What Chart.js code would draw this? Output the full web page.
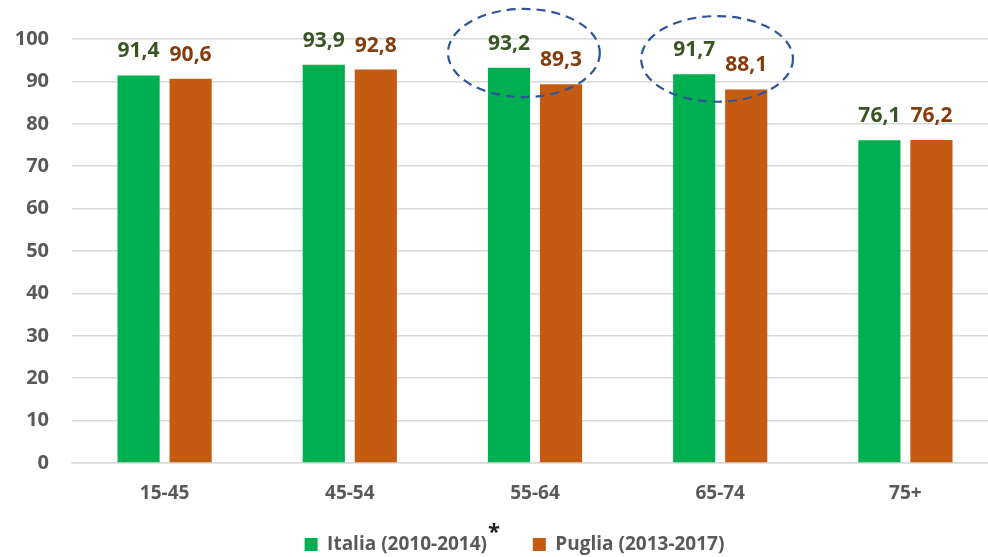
<!DOCTYPE html>
<html>
<head>
<meta charset="utf-8">
<script src="https://cdn.jsdelivr.net/npm/chart.js@4.4.1/dist/chart.umd.min.js"></script>
<style>
  html, body { margin: 0; padding: 0; background: #fff; overflow: hidden; width: 988px; height: 557px; }
  #wrap { position: absolute; left: 0; top: 0; width: 1028px; height: 557px; }
</style>
</head>
<body>
<div id="wrap"><canvas id="c" width="1028" height="557"></canvas></div>
<script>
const categories = ["15-45", "45-54", "55-64", "65-74", "75+"];
const italiaLabel = "Italia (2010-2014)";
const pugliaLabel = "Puglia (2013-2017)";
const italiaValues = [91.4, 93.9, 93.2, 91.7, 76.1];
const pugliaValues = [90.6, 92.8, 89.3, 88.1, 76.2];
const yTicks = [0, 10, 20, 30, 40, 50, 60, 70, 80, 90, 100];
// highlighted groups (category index, centre value, half-height in value units)
const highlightCats = [2, 3];
const highlightCentre = [96.7, 95.3];
const highlightHalfHeight = [10.4, 10.1];

const FONT = "'Open Sans', 'Noto Sans', sans-serif";
const GREEN = "#00B050", ORANGE = "#C55A11";
const GREEN_TXT = "#375623", ORANGE_TXT = "#843C0C";
const GRAY_TXT = "#595959";
const LEG_PAD = 31, LEG_FONT = 19, LEG_SHIFT = 31;

const fmt = v => v.toFixed(1).replace(".", ",");

const valueLabels = {
  id: "valueLabels",
  afterDatasetsDraw(chart) {
    const ctx = chart.ctx;
    ctx.save();
    ctx.font = "bold 21px " + FONT;
    ctx.textAlign = "center";
    ctx.textBaseline = "alphabetic";
    chart.data.datasets.forEach((ds, di) => {
      const meta = chart.getDatasetMeta(di);
      ctx.fillStyle = di === 0 ? GREEN_TXT : ORANGE_TXT;
      meta.data.forEach((bar, i) => {
        ctx.fillText(fmt(ds.data[i]), bar.x, bar.y - 18);
      });
    });
    ctx.restore();
  }
};

const ellipses = {
  id: "ellipses",
  afterDraw(chart) {
    const ctx = chart.ctx, xs = chart.scales.x, ys = chart.scales.y;
    const catW = xs.getPixelForValue(1) - xs.getPixelForValue(0);
    ctx.save();
    ctx.strokeStyle = "#2F5597";
    ctx.lineWidth = 2.2;
    ctx.setLineDash([9, 6]);
    highlightCats.forEach((c, k) => {
      const cx = xs.getPixelForValue(c) - (k === 0 ? 0.06 : 0.017) * catW;
      const cy = ys.getPixelForValue(highlightCentre[k]);
      const ry = ys.getPixelForValue(0) - ys.getPixelForValue(highlightHalfHeight[k]);
      const rx = 0.41 * catW;
      ctx.beginPath();
      ctx.ellipse(cx, cy, rx, ry, 0, 0, Math.PI * 2);
      ctx.stroke();
    });
    ctx.restore();
  }
};

// shift the legend so it is centred like the original figure
const legendShift = {
  id: "legendShift",
  afterLayout(chart) {
    const lg = chart.legend;
    if (lg) { lg.left += LEG_SHIFT; lg.width -= LEG_SHIFT; }
  }
};

const asterisk = {
  id: "asterisk",
  afterDraw(chart) {
    const lg = chart.legend;
    if (!lg || !lg.lineWidths) return;
    const ctx = chart.ctx;
    const start = (lg.left + LEG_PAD + lg.right - lg.lineWidths[0]) / 2;
    ctx.save();
    ctx.font = "bold " + LEG_FONT + "px " + FONT;
    const textX = start + 13 + LEG_FONT / 2;
    const w = ctx.measureText(italiaLabel).width;
    ctx.font = "bold 22px " + FONT;
    ctx.fillStyle = "#222";
    ctx.textAlign = "left";
    ctx.textBaseline = "alphabetic";
    ctx.fillText("*", textX + w + 1, lg.top + LEG_PAD + 4);
    ctx.restore();
  }
};

new Chart(document.getElementById("c"), {
  type: "bar",
  data: {
    labels: categories,
    datasets: [
      { label: italiaLabel, data: italiaValues, backgroundColor: GREEN, categoryPercentage: 0.562, barPercentage: 0.81 },
      { label: pugliaLabel, data: pugliaValues, backgroundColor: ORANGE, categoryPercentage: 0.562, barPercentage: 0.81 }
    ]
  },
  options: {
    responsive: false,
    animation: false,
    layout: { padding: { top: 39, right: 30, left: 0, bottom: -7 } },
    plugins: {
      tooltip: { enabled: false },
      legend: {
        position: "bottom",
        labels: {
          boxWidth: 13, boxHeight: 13, padding: LEG_PAD,
          color: GRAY_TXT,
          font: { family: FONT, size: LEG_FONT, weight: "bold" },
          generateLabels(chart) {
            return chart.data.datasets.map((ds, i) => ({
              text: i === 0 ? ds.label + "   " : ds.label,
              fillStyle: ds.backgroundColor,
              strokeStyle: ds.backgroundColor,
              lineWidth: 0,
              fontColor: GRAY_TXT,
              datasetIndex: i
            }));
          }
        }
      }
    },
    scales: {
      x: {
        grid: { display: false, drawTicks: false },
        border: { display: true, color: "#D9D9D9", width: 1.5 },
        ticks: { color: GRAY_TXT, padding: 19, font: { family: FONT, size: 19, weight: "bold" } },
        afterFit(s) { s.height = 41; }
      },
      y: {
        min: 0, max: 100,
        afterBuildTicks(s) { s.ticks = yTicks.map(v => ({ value: v })); },
        grid: { color: "#D9D9D9", lineWidth: 1.5, drawTicks: false },
        border: { display: false },
        ticks: { color: GRAY_TXT, padding: 23, font: { family: FONT, size: 20, weight: "bold" } },
        afterFit(s) { s.width = 72; }
      }
    }
  },
  plugins: [valueLabels, ellipses, legendShift, asterisk]
});
</script>
</body>
</html>
